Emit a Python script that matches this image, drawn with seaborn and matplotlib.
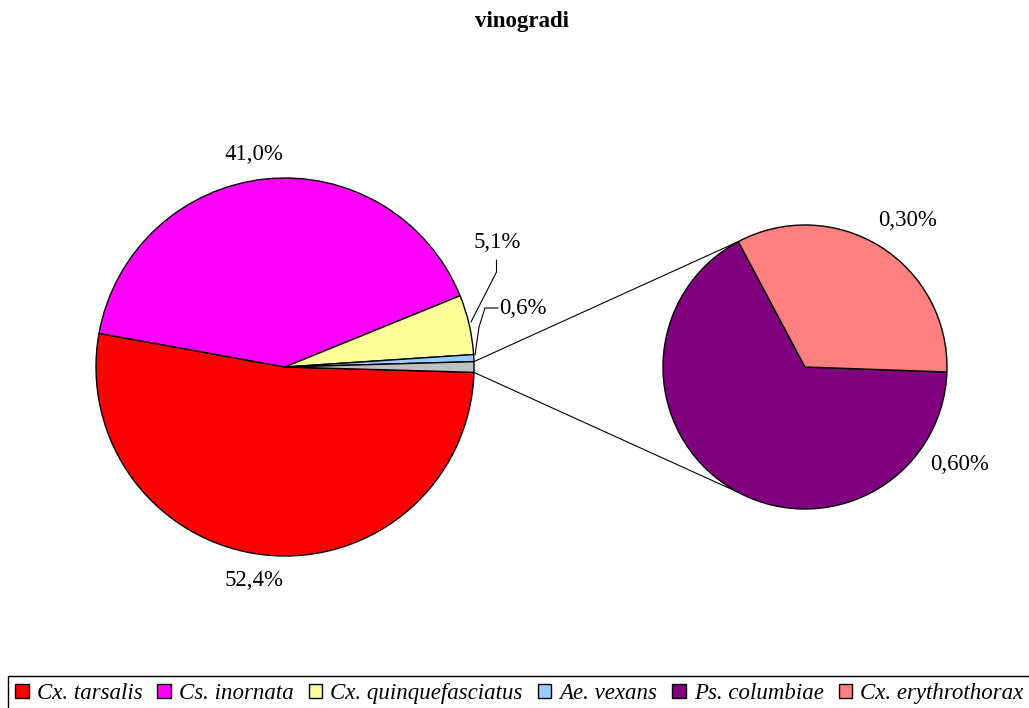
import matplotlib
matplotlib.use("Agg")
import matplotlib.pyplot as plt
import seaborn as sns
import numpy as np
from matplotlib.patches import Patch
from matplotlib.font_manager import FontProperties

# ---- data ----
species = ["Cx. tarsalis", "Cs. inornata", "Cx. quinquefasciatus",
           "Ae. vexans", "Ps. columbiae", "Cx. erythrothorax"]
percent = [52.4, 41.0, 5.1, 0.6, 0.6, 0.3]
colors = ["#FF0000", "#FF00FF", "#FFFF99", "#99CCFF", "#800080", "#FF8080"]
other_color = "#C0C0C0"
title = "vinogradi"

sns.set_theme(style="white")
plt.rcParams['font.family'] = ['Liberation Serif', 'DejaVu Serif']
plt.rcParams['text.color'] = 'black'

W, H = 1029, 708
fig = plt.figure(figsize=(W / 100, H / 100), dpi=100)
ax = fig.add_axes([0, 0, 1, 1])

def Y(y):
    return H - y

main_vals = percent[:4] + [sum(percent[4:])]
main_cols = colors[:4] + [other_color]
sec_vals = percent[4:]
sec_cols = colors[4:]

c1 = (285, Y(367)); r1 = 189
c2 = (805, Y(367)); r2 = 142
wp = dict(edgecolor="black", linewidth=1.0)

start1 = -main_vals[-1] * 3.6 / 2
ax.pie(main_vals, colors=main_cols, startangle=start1, counterclock=False,
       radius=r1, center=c1, wedgeprops=wp, frame=False)
ax.pie(sec_vals, colors=sec_cols, startangle=-2, counterclock=False,
       radius=r2, center=c2, wedgeprops=wp, frame=False)

# connector lines between pies
a = np.deg2rad(-start1)
p_up = (c1[0] + r1 * np.cos(a), c1[1] + r1 * np.sin(a))
p_dn = (c1[0] + r1 * np.cos(a), c1[1] - r1 * np.sin(a))
b = np.deg2rad(118)
q_up = (c2[0] + r2 * np.cos(b), c2[1] + r2 * np.sin(b))
q_dn = (c2[0] + r2 * np.cos(b), c2[1] - r2 * np.sin(b))
ax.plot([p_up[0], q_up[0]], [p_up[1], q_up[1]], color="black", lw=0.8)
ax.plot([p_dn[0], q_dn[0]], [p_dn[1], q_dn[1]], color="black", lw=0.8)

fmt1 = lambda v: f"{v:.1f}".replace(".", ",") + "%"
fmt2 = lambda v: f"{v:.2f}".replace(".", ",") + "%"
lab_fs = 16.5
tk = dict(ha="center", va="center", fontsize=lab_fs, color="black")
ax.text(254, Y(581), fmt1(main_vals[0]), **tk)
ax.text(254, Y(155), fmt1(main_vals[1]), **tk)
ax.text(497, Y(243), fmt1(main_vals[2]), **tk)
ax.text(523, Y(308), fmt1(main_vals[3]), **tk)
ax.text(960, Y(465), fmt2(sec_vals[0]), **tk)
ax.text(908, Y(220), fmt2(sec_vals[1]), **tk)

# leader lines
ax.plot([496.5, 496.5, 471], [Y(260), Y(272), Y(322)], color="black", lw=0.8)
ax.plot([498, 485, 479, 475], [Y(308), Y(308), Y(327), Y(355)], color="black", lw=0.8)

ax.text(W / 2 + 7, Y(22), title, ha="center", va="center", fontsize=16.5,
        fontweight="bold", color="black")

ax.set_xlim(0, W)
ax.set_ylim(0, H)
ax.set_aspect("equal")
ax.axis("off")

handles = [Patch(facecolor=c, edgecolor="black", linewidth=1.0) for c in colors]
leg = fig.legend(handles, species, loc="upper left",
                 bbox_to_anchor=(8 / W, 1 - 676 / H), ncol=6, frameon=True,
                 fancybox=False, edgecolor="black", framealpha=1,
                 prop=FontProperties(family="Liberation Serif", style="italic", size=16.5),
                 handlelength=0.6, handleheight=0.6, handletextpad=0.35,
                 columnspacing=0.65, borderpad=0.3, borderaxespad=0,
                 labelcolor="black")
leg.get_frame().set_linewidth(1.0)

fig.savefig("out.png", dpi=100)
